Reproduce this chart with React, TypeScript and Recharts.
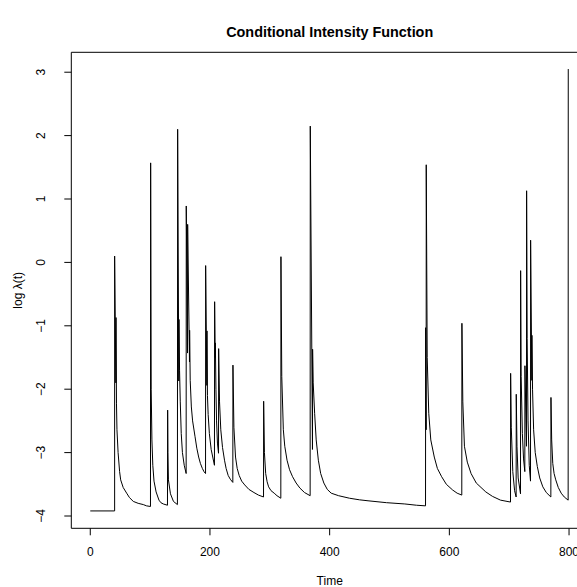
import React from 'react';
import { LineChart, Line, XAxis, YAxis, ReferenceLine } from 'recharts';

const FONT = '"Liberation Sans", Arial, Helvetica, sans-serif';

// time points (event jumps appear as two points close together)
const timePoints = [
  0, 40.7,
  40.7, 42.8, 43.0, 43.8, 44.6, 46.5, 49.0, 50.8, 55.0, 60.8, 65.5, 71.9, 80.0, 88.6, 94.0, 100.6,
  100.9, 101.8, 103.0, 104.5, 106.5, 110.0, 114.8, 118.0, 122.0, 129.0,
  129.3, 129.8, 130.6, 134.0, 139.0, 145.6,
  146.0, 147.9, 148.2, 149.2, 150.4, 152.0, 154.0, 157.0, 160.2,
  160.4, 162.5, 162.7, 165.8, 166.0, 167.0, 168.9, 171.0, 175.1, 178.0, 181.1, 184.0, 187.3, 190.0, 192.6,
  192.8, 194.8, 195.0, 195.8, 197.0, 199.0, 202.0, 207.5,
  207.8, 208.8, 209.0, 210.0, 211.0, 212.5, 214.3,
  214.5, 216.0, 218.1, 221.0, 224.3, 227.0, 230.4, 234.0, 238.2,
  238.4, 240.0, 242.7, 245.5, 248.8, 253.0, 258.1, 265.0, 273.5, 281.0, 289.5,
  289.7, 291.0, 293.1, 295.5, 298.0, 302.0, 307.3, 312.0, 318.4,
  318.6, 320.0, 322.6, 325.0, 328.8, 333.0, 338.0, 344.0, 350.3, 358.0, 367.4,
  367.6, 371.3, 371.5, 372.5, 374.9, 377.5, 381.1, 385.0, 390.3, 396.0, 402.6, 415.0, 433.3, 450.0, 464.1, 495.0, 525.6, 545.0, 560.2,
  560.4, 561.2, 561.4, 563.0, 565.6, 569.0, 574.8, 580.0, 587.1, 595.0, 605.5, 613.0, 620.8,
  621.0, 622.5, 625.2, 630.0, 636.3, 645.0, 660.9, 672.0, 685.5, 702.2,
  702.4, 703.5, 706.0, 709.0, 711.6,
  711.8, 713.0, 715.0, 718.9,
  719.1, 720.0, 722.0, 724.0, 726.1,
  726.3, 728.9, 729.1, 730.0, 731.5, 733.5, 735.6,
  735.8, 737.8, 738.0, 739.0, 740.8, 743.5, 747.0, 751.0, 756.2, 762.0, 769.6,
  769.8, 771.0, 772.8, 775.0, 777.8, 782.0, 786.9, 792.0, 798.5,
  798.7,
];

const logLambda = [
  -3.92, -3.92,
  0.10, -1.90, -0.87, -2.22, -2.64, -3.00, -3.30, -3.43, -3.55, -3.64, -3.71, -3.77, -3.80, -3.82, -3.84, -3.85,
  1.57, -2.00, -2.80, -3.20, -3.45, -3.62, -3.75, -3.79, -3.81, -3.83,
  -2.33, -3.00, -3.43, -3.65, -3.77, -3.82,
  2.10, -1.87, -0.90, -1.70, -2.20, -2.70, -3.00, -3.20, -3.33,
  0.89, -1.43, 0.60, -1.57, -1.07, -1.86, -2.28, -2.50, -2.75, -2.93, -3.07, -3.17, -3.25, -3.30, -3.33,
  -0.05, -1.94, -1.08, -2.10, -2.40, -2.70, -2.95, -3.20,
  -0.62, -1.50, -1.27, -2.00, -2.50, -2.85, -3.01,
  -1.36, -2.20, -2.64, -2.92, -3.12, -3.25, -3.36, -3.42, -3.47,
  -1.62, -2.60, -3.07, -3.25, -3.36, -3.45, -3.51, -3.58, -3.63, -3.67, -3.70,
  -2.19, -3.00, -3.33, -3.46, -3.54, -3.60, -3.64, -3.68, -3.72,
  0.09, -1.80, -2.64, -2.90, -3.12, -3.27, -3.38, -3.48, -3.56, -3.63, -3.68,
  2.15, -2.95, -1.37, -1.90, -2.38, -2.80, -3.12, -3.33, -3.48, -3.58, -3.64, -3.68, -3.72, -3.745, -3.76, -3.79, -3.81, -3.83, -3.84,
  -1.03, -2.64, 1.54, -1.50, -2.38, -2.80, -3.07, -3.25, -3.38, -3.50, -3.59, -3.64, -3.67,
  -0.96, -2.20, -2.90, -3.15, -3.33, -3.48, -3.62, -3.69, -3.75, -3.78,
  -1.75, -2.60, -3.30, -3.60, -3.70,
  -2.08, -2.90, -3.40, -3.65,
  -0.13, -1.80, -2.70, -3.10, -3.30,
  -1.63, -2.90, 1.13, -1.20, -2.50, -3.20, -3.45,
  0.35, -1.86, -1.15, -2.00, -2.64, -3.00, -3.22, -3.40, -3.54, -3.63, -3.70,
  -2.13, -2.80, -3.17, -3.33, -3.43, -3.55, -3.64, -3.70, -3.75,
  3.05,
];

const xTicks = [0, 200, 400, 600, 800];
const yTicks = [-4, -3, -2, -1, 0, 1, 2, 3];

const data = timePoints.map((t, i) => ({ t, v: logLambda[i] }));

const fmt = (v: number) => (v < 0 ? '\u2212' + Math.abs(v) : String(v));

const YTick = ({ x, y, payload }: any) => (
  <text
    x={x}
    y={y}
    transform={`rotate(-90, ${x}, ${y})`}
    textAnchor="middle"
    fontSize={12}
    fontFamily={FONT}
    fill="#000"
  >
    {fmt(payload.value)}
  </text>
);

export default function App() {
  return (
    <div style={{ position: 'absolute', left: 0, top: 0, width: 577, height: 587, background: '#fff' }}>
      <LineChart width={577} height={587} data={data} margin={{ top: 52.3, right: 0, bottom: 0, left: 0 }}>
        <XAxis
          dataKey="t"
          type="number"
          domain={[-31.7, 813.3]}
          allowDataOverflow
          ticks={xTicks}
          interval={0}
          height={58.7}
          tickSize={7}
          tickMargin={12}
          stroke="#000"
          tickLine={{ stroke: '#000' }}
          axisLine={{ stroke: '#000' }}
          tick={{ fill: '#000', fontSize: 12, fontFamily: FONT }}
        />
        <YAxis
          type="number"
          domain={[-4.194, 3.314]}
          allowDataOverflow
          ticks={yTicks}
          interval={0}
          width={71.3}
          tickSize={7}
          tickMargin={19.6}
          stroke="#000"
          tickLine={{ stroke: '#000' }}
          axisLine={{ stroke: '#000' }}
          tick={<YTick />}
        />
        <ReferenceLine y={3.314} stroke="#000" strokeWidth={1} />
        <Line
          type="linear"
          dataKey="v"
          stroke="#000"
          strokeWidth={1}
          dot={false}
          activeDot={false}
          isAnimationActive={false}
        />
      </LineChart>
      <svg width={577} height={587} style={{ position: 'absolute', left: 0, top: 0, pointerEvents: 'none' }}>
        <text x={329.7} y={37} textAnchor="middle" fontSize={14.4} fontWeight="bold" fontFamily={FONT} fill="#000">
          Conditional Intensity Function
        </text>
        <text x={329.7} y={585} textAnchor="middle" fontSize={12} fontFamily={FONT} fill="#000">
          Time
        </text>
        <text
          x={22}
          y={290.3}
          transform="rotate(-90, 22, 290.3)"
          textAnchor="middle"
          fontSize={12}
          fontFamily={FONT}
          fill="#000"
        >
          log λ(t)
        </text>
      </svg>
    </div>
  );
}
